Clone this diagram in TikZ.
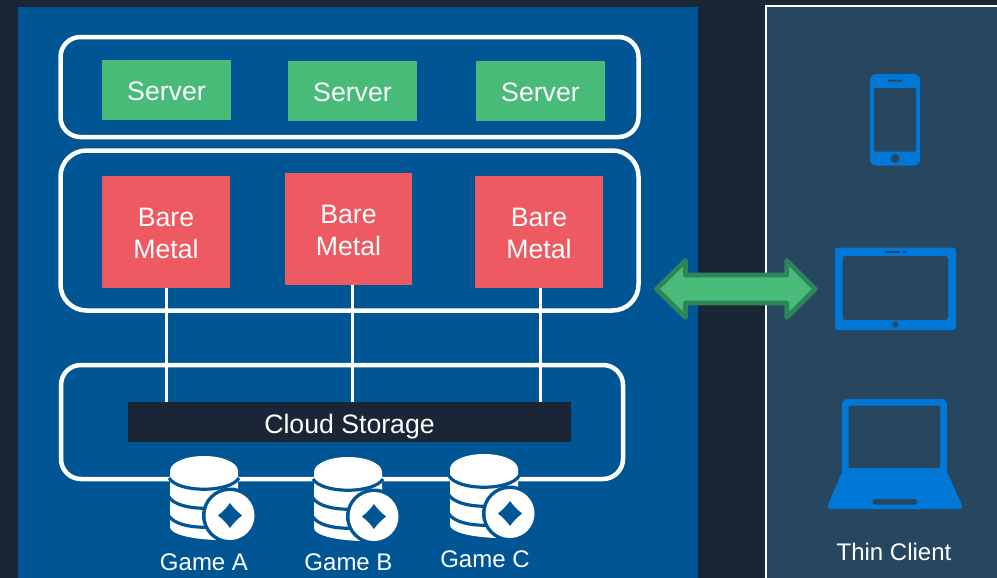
\documentclass[tikz,border=0pt]{standalone}
\usepackage{fontspec}
\setmainfont{Liberation Sans}
\usepackage{tikz}
\definecolor{PageDark}{HTML}{1A2636}
\definecolor{PanelBlue}{HTML}{005594}
\definecolor{ClientBlue}{HTML}{27465F}
\definecolor{IconBlue}{HTML}{0078D7}
\definecolor{ServerGreen}{HTML}{48BB78}
\definecolor{ArrowGreen}{HTML}{2F855A}
\definecolor{MetalRed}{HTML}{EE5A62}
\newcommand{\px}{0.75pt}
\newcommand{\bareline}{\rule{0pt}{16.1pt}Bare}
\tikzset{
  groupbox/.style={draw=white, line width=4.5*\px, rounded corners=20*\px, inner sep=0pt, outer sep=0pt},
  serverbox/.style={fill=ServerGreen, text=white, font=\fontsize{20}{24}\selectfont, text height=16.1pt, text depth=0pt, minimum width=129*\px, minimum height=60*\px, inner sep=0pt, outer sep=0pt},
  metalbox/.style={fill=MetalRed, text=white, font=\fontsize{20}{24}\selectfont, align=center, minimum width=128*\px, minimum height=112*\px, inner sep=0pt, outer sep=0pt},
  storagebox/.style={fill=PageDark, text=white, font=\fontsize{20}{24}\selectfont, text height=17.6pt, text depth=0pt, minimum width=443*\px, minimum height=40*\px, inner sep=0pt, outer sep=0pt},
  link/.style={draw=white, line width=3*\px},
  caption/.style={text=white, font=\fontsize{18}{22}\selectfont, inner sep=0pt},
  icon/.style={fill=IconBlue},
  iconcut/.style={fill=ClientBlue},
  % stacked disks with a coin, drawn around the middle of the top disk
  dbicon/.pic={
    \fill[white] (-34,0) -- (-34,56) .. controls (-34,63) and (-14,68) .. (12,69) -- (34,40) -- (34,0) -- cycle;
    \foreach \y in {7,26,45}
      \draw[PanelBlue, line width=3.2*\px] (-35,\y) .. controls (-26,\y+15) and (26,\y+15) .. (35,\y);
    \fill[white] (0,0) ellipse (34 and 15);
    \fill[PanelBlue] (26,44.5) circle (28);
    \fill[white] (26,44.5) circle (24.5);
    \fill[PanelBlue] (26,32) .. controls (29,36.5) and (33,40.5) .. (38,44.5)
      .. controls (33,48.5) and (29,52.5) .. (26,57)
      .. controls (23,52.5) and (19,48.5) .. (14,44.5)
      .. controls (19,40.5) and (23,36.5) .. (26,32) -- cycle;
  }
}
\begin{document}
\begin{tikzpicture}[x=\px, y=-\px]
  \useasboundingbox (0,0) rectangle (997,578);
  \fill[PageDark] (0,0) rectangle (997,578);
  \fill[PanelBlue] (18,7) rectangle (698,578);
  \fill[ClientBlue] (766,6) rectangle (997,578);
  \draw[white, line width=2.5*\px] (766,578) -- (766,6) -- (997,6);
  % Groups
  \node[groupbox, minimum width=578*\px, minimum height=100*\px] (servergroup) at (349.5,87) {};
  \node[groupbox, rounded corners=26*\px, minimum width=578*\px, minimum height=160*\px] (metalgroup) at (349.5,230.5) {};
  \node[groupbox, minimum width=562*\px, minimum height=114*\px] (storagegroup) at (342,422) {};
  % Servers
  \node[serverbox] (serverA) at (166.5,90) {Server};
  \node[serverbox] (serverB) at (352.5,91) {Server};
  \node[serverbox] (serverC) at (540.5,91) {Server};
  % Bare metal
  \node[metalbox] (metalA) at (166,232) {\bareline\\Metal};
  \node[metalbox, minimum width=127*\px] (metalB) at (348.5,229) {\bareline\\Metal};
  \node[metalbox] (metalC) at (539,232) {\bareline\\Metal};
  % Storage
  \node[storagebox] (storage) at (349.5,422) {Cloud Storage};
  \draw[link] (metalA.south) -- (metalA |- storage.north);
  \draw[link] ([xshift=3.5*\px]metalB.south) -- ([xshift=3.5*\px]metalB |- storage.north);
  \draw[link] ([xshift=1*\px]metalC.south) -- ([xshift=1*\px]metalC |- storage.north);
  % Games
  \pic at (204,471) {dbicon};
  \pic at (348,472) {dbicon};
  \pic at (484,469) {dbicon};
  \node[caption] (gameA) at (204,562) {Game A};
  \node[caption] (gameB) at (348.5,562) {Game B};
  \node[caption] (gameC) at (485,559) {Game C};
  % Double arrow
  \draw[fill=ServerGreen, draw=ArrowGreen, line width=4.8*\px, line join=round]
    (656.5,289) -- (685.5,260.5) -- (685.5,275) -- (786.7,275) -- (786.7,260.5) -- (815.3,289)
    -- (786.7,317.5) -- (786.7,303) -- (685.5,303) -- (685.5,317.5) -- cycle;
  % Phone
  \fill[icon, rounded corners=6*\px] (870,74) rectangle (920,165.5);
  \fill[iconcut, rounded corners=1*\px] (874,88) rectangle (916,151.5);
  \fill[iconcut, rounded corners=0.5*\px] (888,79.5) rectangle (902,81.5);
  \fill[iconcut] (895,158.5) circle (4.5);
  % Tablet
  \fill[icon, rounded corners=3*\px] (835,247.5) rectangle (956,330);
  \fill[iconcut, rounded corners=3*\px] (842.5,256) rectangle (948,320);
  \fill[iconcut] (885,251) rectangle (900,253);
  \fill[iconcut] (903,251) rectangle (906,253);
  \fill[iconcut] (895.5,324.5) circle (3);
  % Laptop
  \fill[icon, rounded corners=2*\px] (842,472) -- (828,505) -- (828,509) -- (962,509) -- (962,505) -- (947,472) -- cycle;
  \fill[icon, rounded corners=6*\px] (842,480) -- (842,399) -- (947,399) -- (947,480) -- cycle;
  \fill[iconcut, rounded corners=2*\px] (848.5,405.5) rectangle (940,468);
  \fill[iconcut, rounded corners=2.5*\px] (872.5,499) rectangle (917,504.5);
  \node[caption] (client) at (894,552) {Thin Client};
\end{tikzpicture}
\end{document}
